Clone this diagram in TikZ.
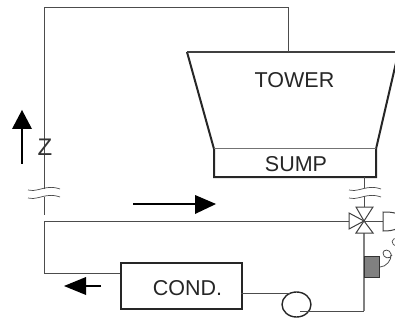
\documentclass[tikz,border=0pt]{standalone}
\usepackage{fontspec}
\setmainfont{Liberation Sans}
\usetikzlibrary{shapes.geometric}
\newcommand{\breakmark}[2]{\draw[breakline,shift={(#1,#2)}] (-16,1) .. controls (-9,3) and (-3,-1) .. (5,-1.5) .. controls (9,-2) and (13,-1) .. (16,0);}
\tikzset{
  x=1pt,y=-1pt,
  lbl/.style={inner sep=0pt,font=\fontsize{21.5}{23}\selectfont,text=black!85},
  pipe/.style={draw=black!70,line width=1pt},
  greypipe/.style={draw=black!50,line width=1.8pt},
  wall/.style={draw=black!85,line width=2pt},
  breakline/.style={draw=black!70,line width=0.7pt},
  valvepart/.style={draw=black!75,line width=1pt,fill=white,line join=miter},
  flowarrow/.style={draw=black,line width=1.6pt},
  flowhead/.style={fill=black,draw=none},
}
\begin{document}
\begin{tikzpicture}
\path[use as bounding box,clip] (0,0) rectangle (395,320);
% named points
\coordinate (tl) at (187,52);
\coordinate (tr) at (398.5,52);
\coordinate (sl) at (214,149);
\coordinate (sr) at (376,149);
\coordinate (bl) at (214,177);
\coordinate (br) at (376,177);
\coordinate (valve) at (364,221);
\coordinate (towerin) at (288,52);
\coordinate (topright) at (288,8);
\coordinate (topleft) at (44,8);
\coordinate (lefttop) at (44,221);
\coordinate (leftlow) at (44,273);
\coordinate (sumpout) at (364,177);
\coordinate (rightlow) at (364,311);
% tower and sump
\draw[wall] (sl) -- (tl);
\draw[draw=black!75,line width=1.2pt] (tl) -- (tr);
\draw[wall] (tr) -- (sr) -- (br) -- (bl) -- (sl);
\draw[draw=black!55,line width=1pt] (sl) -- (sr);
\node[lbl] (tower) at (294.5,80) {TOWER};
\node[lbl] (sump) at (296,164) {SUMP};
% condenser and pump
\node[draw=black!85,line width=1.6pt,minimum width=121pt,minimum height=46pt,inner sep=0pt,anchor=north west] (cond) at (120,262) {};
\node[lbl] (condtext) at (187.5,288) {COND.};
\node[draw=black!85,line width=1.4pt,ellipse,minimum width=29pt,minimum height=25pt,inner sep=0pt] (pump) at (296.5,304.5) {};
% pipes
\draw[pipe] (topleft) -- (topright) -- (towerin);
\draw[pipe] (topleft) -- (44,189);
\draw[pipe] (44,197) -- (44,215);
\draw[pipe] (valve) -- (lefttop) -- (leftlow) -- (leftlow -| cond.west);
\draw[pipe] (241,293) -- (290,293);
\draw[pipe] (300,311) -- (rightlow);
\draw[pipe] (sumpout) -- (364,188);
\draw[pipe] (364,196) -- (364,207);
\draw[greypipe] (364,233) -- (rightlow);
\breakmark{44}{189}
\breakmark{44}{197}
\breakmark{365}{189}
\breakmark{365}{197}
% valve
\draw[valvepart] (valve) -- (356,207) -- (373,207) -- cycle;
\draw[valvepart] (valve) -- (356,233) -- (373,233) -- cycle;
\draw[valvepart] (valve) -- (349,213) -- (349,229) -- cycle;
\draw[pipe] (valve) -- (383,221);
\draw[valvepart] (398,214) .. controls (393,212) and (387,212) .. (383,212) -- (383,231) .. controls (387,231) and (393,231) .. (398,228);
\draw[breakline] (397,238) .. controls (391,238) and (390,245) .. (397,246);
% actuator
\node[draw=black!80,fill=black!50,line width=1pt,minimum width=15pt,minimum height=21pt,inner sep=0pt,anchor=north west] (act) at (364,256) {};
\draw[breakline,line width=0.8pt] (act.east) ..controls (386,267) and (392,260) .. (391,254) .. controls (390,249) and (383,249) .. (383,253) .. controls (383,258) and (390,260) .. (392,255);
% flow arrows
\draw[flowarrow] (22,164) -- (22,128);
\fill[flowhead] (22,110) -- (32,129) -- (12,129) -- cycle;
\node[inner sep=0pt,font=\fontsize{24}{26}\selectfont,text=black!80] (z) at (45,147) {Z};
\draw[flowarrow] (133,204) -- (197,204);
\fill[flowhead] (216,204) -- (195,195) -- (195,214) -- cycle;
\draw[flowarrow] (101,286) -- (83,286);
\fill[flowhead] (64,286) -- (86,277) -- (86,295) -- cycle;
\end{tikzpicture}
\end{document}
